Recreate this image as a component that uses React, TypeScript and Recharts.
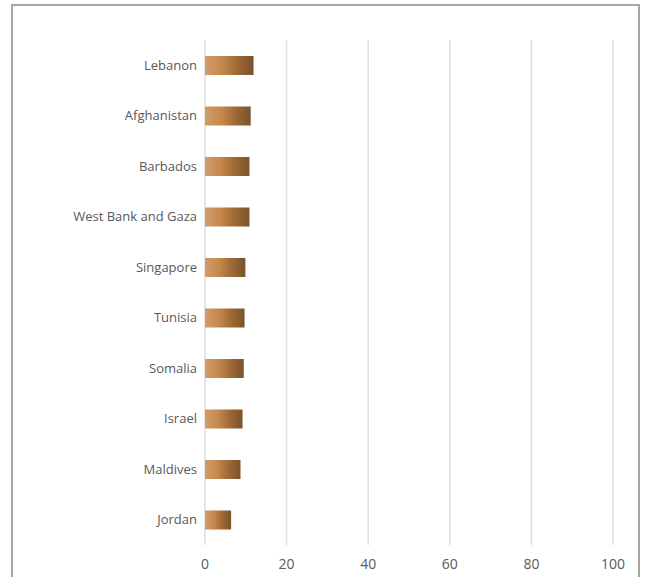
import { BarChart, Bar, XAxis, YAxis, CartesianGrid } from 'recharts';

const countries = [
  'Lebanon', 'Afghanistan', 'Barbados', 'West Bank and Gaza', 'Singapore',
  'Tunisia', 'Somalia', 'Israel', 'Maldives', 'Jordan',
];
const values = [11.9, 11.2, 10.9, 10.9, 9.9, 9.7, 9.5, 9.2, 8.7, 6.4];
const xTicks = [0, 20, 40, 60, 80, 100];

const chartData = countries.map((name, i) => ({ name, value: values[i] }));

const tickStyle = { fontSize: 13, fill: '#595959', fontFamily: '"Open Sans", sans-serif' };

export default function App() {
  return (
    <div style={{ position: 'absolute', left: 0, top: 0, width: 649, height: 577, overflow: 'hidden', background: '#fff' }}>
      {/* outer frame, bottom edge runs off the picture */}
      <div style={{
        position: 'absolute', left: 11, top: 4, width: 629, height: 620,
        border: '2px solid #a6a6a6', boxSizing: 'border-box',
      }} />
      <div style={{ position: 'absolute', left: 0, top: 0 }}>
        <BarChart
          width={649} height={577} data={chartData} layout="vertical"
          margin={{ top: 40, right: 36, left: 0, bottom: 2 }}
        >
          <defs>
            <linearGradient id="bronze" x1="0" y1="0" x2="1" y2="0">
              <stop offset="0%" stopColor="#D09C6B" />
              <stop offset="35%" stopColor="#C6884C" />
              <stop offset="65%" stopColor="#A06A36" />
              <stop offset="100%" stopColor="#7A522C" />
            </linearGradient>
          </defs>
          <CartesianGrid horizontal={false} stroke="#dedede" strokeWidth={1.5} />
          <XAxis
            type="number" domain={[0, 100]} ticks={xTicks}
            axisLine={false} tickLine={false} height={30} tickMargin={8}
            tick={{ ...tickStyle, fontSize: 14 }}
          />
          <YAxis
            type="category" dataKey="name" width={205}
            axisLine={false} tickLine={false} interval={0}
            tick={tickStyle}
          />
          <Bar dataKey="value" fill="url(#bronze)" barSize={19} isAnimationActive={false} />
        </BarChart>
      </div>
    </div>
  );
}
